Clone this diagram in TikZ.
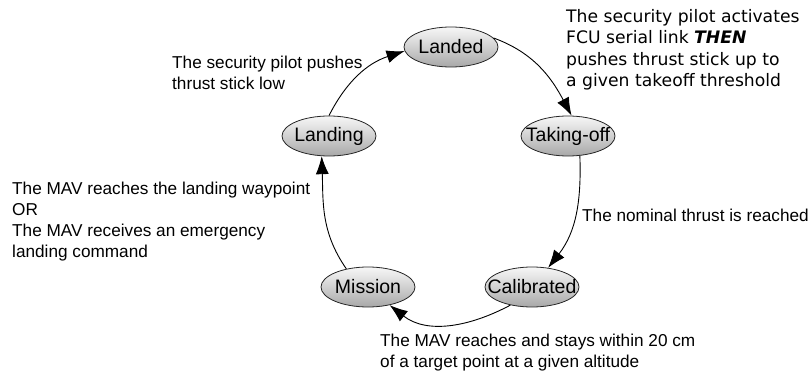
\documentclass[tikz,border=0pt]{standalone}
\usepackage{fontspec}
\setmainfont{Liberation Sans}
\newfontfamily\dejavu{DejaVu Sans}
\usetikzlibrary{shapes.geometric,arrows.meta}
\begin{document}
\begin{tikzpicture}[x=1pt,y=1pt,
  state/.style={ellipse, draw=black!85, line width=0.8pt, top color=black!3, bottom color=black!34,
    minimum width=94pt, minimum height=40pt, inner sep=0pt, font=\fontsize{19.5}{23}\selectfont},
  lbl/.style={font=\fontsize{17.2}{21}\selectfont, align=left, inner sep=0pt},
  tr/.style={-{Latex[length=18pt,width=13pt]}, line width=0.9pt}]
\useasboundingbox (0,0) rectangle (812,373);
\node[state] (landed) at (451,326) {\makebox[0pt]{Landed}};
\node[state] (takeoff) at (568,237) {\makebox[0pt]{Taking-off}};
\node[state] (landing) at (329,237) {\makebox[0pt]{Landing}};
\node[state] (mission) at (368,86) {\makebox[0pt]{Mission}};
\node[state] (calib) at (532,86) {\makebox[0pt]{Calibrated}};

\draw[tr] (landing.north) to[out=63,in=198] (landed.185);
\draw[tr] (landed.12) to[out=-20,in=118] (takeoff.80);
\draw[tr] (takeoff.-59) to[out=-88,in=52] (calib.50);
\draw[tr] (calib.-140) to[out=-152,in=-38] (mission.-40);
\draw[tr] (mission.140) to[out=125,in=-88] (landing.-110);

\node[lbl, anchor=north west, font=\dejavu\fontsize{17.2}{21.5}\selectfont] (ltop) at (566,364)
  {The security pilot activates\\FCU serial link \textbf{\textit{THEN}}\\pushes thrust stick up to\\a given takeoff threshold};
\node[lbl, anchor=north west] (lland) at (172,317.3)
  {The security pilot pushes\\thrust stick low};
\node[lbl, anchor=north west] (lmission) at (12,191.3)
  {The MAV reaches the landing waypoint\\OR\\The MAV receives an emergency\\landing command};
\node[lbl, anchor=west] (lnom) at (582,158) {The nominal thrust is reached};
\node[lbl, anchor=north west] (lcal) at (380,39.3)
  {The MAV reaches and stays within 20 cm\\of a target point at a given altitude};
\end{tikzpicture}
\end{document}
